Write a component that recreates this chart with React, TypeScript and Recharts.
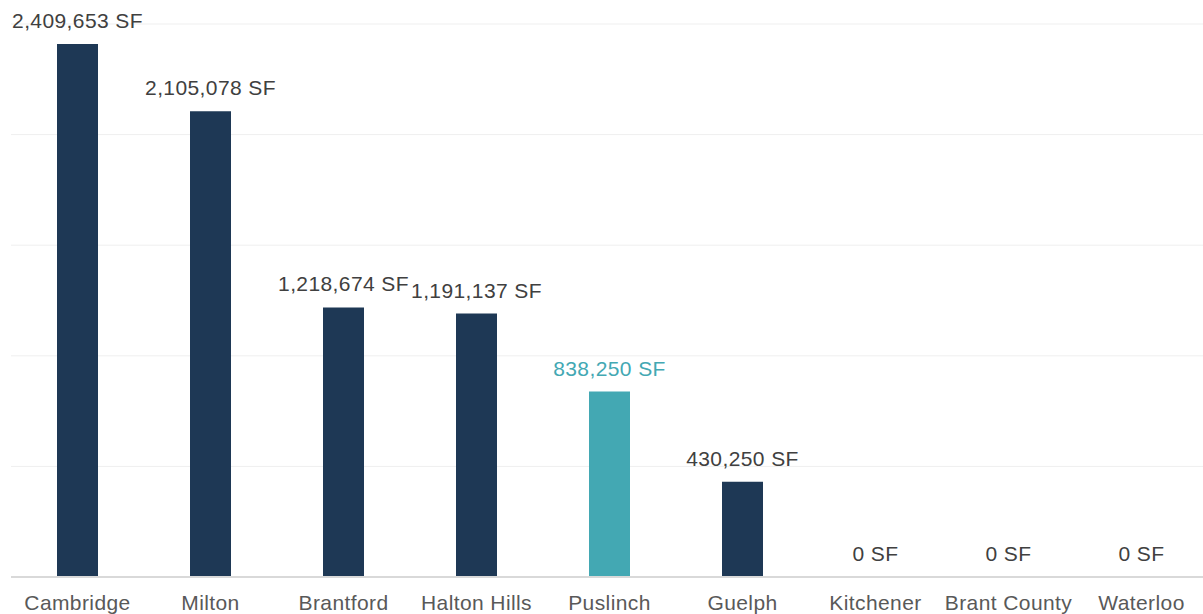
import { Bar, ComposedChart, CartesianGrid, Cell, LabelList, Line, XAxis, YAxis } from 'recharts';

// Square footage by municipality, Puslinch highlighted

const cities = [
  'Cambridge',
  'Milton',
  'Brantford',
  'Halton Hills',
  'Puslinch',
  'Guelph',
  'Kitchener',
  'Brant County',
  'Waterloo',
];
const sqft = [2409653, 2105078, 1218674, 1191137, 838250, 430250, 0, 0, 0];
const highlight = 'Puslinch';
const yTicks = [0, 500000, 1000000, 1500000, 2000000, 2500000];

const NAVY = '#1e3855';
const TEAL = '#43a8b3';
const FONT = 'Liberation Sans, Arial, sans-serif';

const data = cities.map((city, i) => ({ city, value: sqft[i] }));

const fmt = (v: number) => `${v.toLocaleString('en-US')} SF`;

// labels above bars; zero values are labelled from the point series since
// zero-height bars get no label
function ValueLabel(props: any) {
  const { x, y, width, value, index } = props;
  const isHl = cities[index] === highlight;
  const cx = width ? x + width / 2 : x;
  return (
    <text
      x={cx}
      y={y - 16}
      textAnchor="middle"
      fill={isHl ? TEAL : '#404040'}
      fontSize={21}
      letterSpacing={0.4}
      fontFamily={FONT}
    >
      {fmt(value)}
    </text>
  );
}

function ZeroLabel(props: any) {
  if (props.value !== 0) return null;
  return <ValueLabel {...props} width={0} />;
}

export default function App() {
  return (
    <div style={{ position: 'absolute', left: 0, top: 0, width: 1203, height: 614, overflow: 'hidden', background: '#fff' }}>
      <ComposedChart
        width={1212}
        height={614}
        data={data}
        margin={{ top: 24, right: 4, bottom: 0, left: 11 }}
        barCategoryGap={0}
      >
        <CartesianGrid vertical={false} stroke="#efefef" />
        <XAxis
          dataKey="city"
          height={37}
          axisLine={{ stroke: '#d9d9d9', strokeWidth: 2 }}
          tickLine={false}
          tickMargin={12}
          interval={0}
          tick={{ fill: '#595959', fontSize: 21, fontFamily: FONT, letterSpacing: 0.4 }}
        />
        <YAxis hide domain={[0, 2500000]} ticks={yTicks} />
        <Bar dataKey="value" barSize={41} isAnimationActive={false}>
          {data.map((d) => (
            <Cell key={d.city} fill={d.city === highlight ? TEAL : NAVY} />
          ))}
          <LabelList dataKey="value" content={ValueLabel} />
        </Bar>
        <Line dataKey="value" stroke="none" dot={false} activeDot={false} isAnimationActive={false}>
          <LabelList dataKey="value" content={ZeroLabel} />
        </Line>
      </ComposedChart>
    </div>
  );
}
